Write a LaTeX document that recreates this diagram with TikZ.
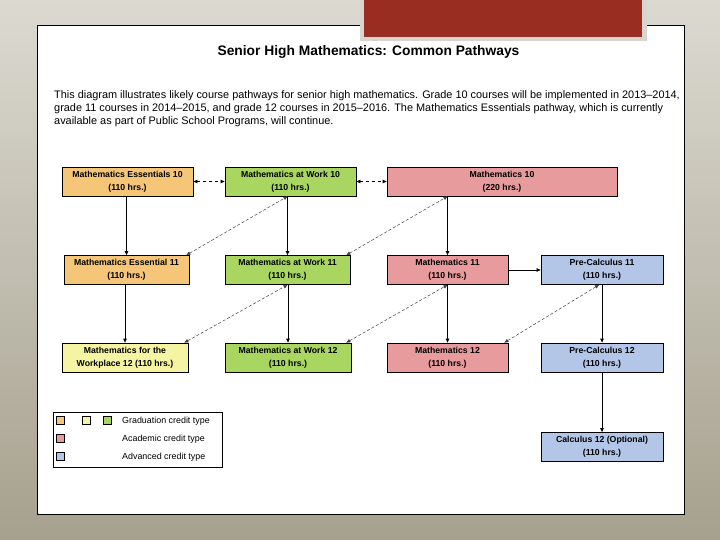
\documentclass[tikz,border=0pt]{standalone}
\usepackage{fontspec}
\setmainfont{Liberation Sans}
\usetikzlibrary{arrows.meta}
\definecolor{slidetop}{HTML}{DCD9D1}
\definecolor{slidebot}{HTML}{A6A18E}
\definecolor{tabred}{HTML}{992D21}
\definecolor{tabrim}{HTML}{D8D5CE}
\definecolor{essorange}{HTML}{F5C678}
\definecolor{wpyellow}{HTML}{F5F4A3}
\definecolor{workgreen}{HTML}{A8D660}
\definecolor{acadpink}{HTML}{E89B9C}
\definecolor{advblue}{HTML}{B4C6E8}

\begin{document}
\begin{tikzpicture}[
    x=1pt, y=-1pt,
    course/.style={draw=black, line width=0.8pt, fill=#1, align=center, inner sep=0pt,
                   minimum height=29pt, font=\fontsize{8.7}{13}\selectfont\bfseries},
    flow/.style={-{Triangle[length=4pt, width=3.6pt]}, line width=0.8pt},
    peerlink/.style={{Triangle[length=4pt, width=3.6pt]}-{Triangle[length=4pt, width=3.6pt]},
                     dashed, line width=0.8pt},
    crosslink/.style={{Triangle[length=4pt, width=3.4pt]}-{Triangle[length=4pt, width=3.4pt]},
                      densely dashed, line width=0.5pt, black!75},
    swatch/.style={draw=black, line width=0.6pt, fill=#1, minimum size=8pt, inner sep=0pt},
    keytext/.style={anchor=west, inner sep=0pt, font=\fontsize{8.9}{10}\selectfont}
]

% slide background
\useasboundingbox (0,0) rectangle (720,540);
\shade[top color=slidetop, bottom color=slidebot] (0,0) rectangle (720,540);

% white sheet and red tab
\fill[white] (37,25) rectangle (684,514);
\draw[line width=0.8pt] (37,25) rectangle (684,514);
\fill[tabrim] (360,0) rectangle (647,41);
\fill[tabred] (364,0) rectangle (642,37);

% heading
\node[font=\fontsize{13.8}{16}\selectfont\bfseries] (title) at (368.5,51.5)
    {Senior High Mathematics: Common Pathways};
\node[anchor=north west, inner sep=0pt, align=left, font=\fontsize{10.9}{13}\selectfont] (intro) at (54,90.5)
    {This diagram illustrates likely course pathways for senior high mathematics. Grade 10 courses will be implemented in 2013--2014,\\
     grade 11 courses in 2014--2015, and grade 12 courses in 2015--2016. The Mathematics Essentials pathway, which is currently\\
     available as part of Public School Programs, will continue.};

% grade 10
\node[course=essorange, minimum width=131pt] (ess10) at (127.5,181.5) {Mathematics Essentials 10\\(110 hrs.)};
\node[course=workgreen, minimum width=131pt] (work10) at (290.5,181.5) {Mathematics at Work 10\\(110 hrs.)};
\node[course=acadpink, minimum width=230pt] (math10) at (502,181.5) {Mathematics 10\\(220 hrs.)};

% grade 11
\node[course=essorange, minimum width=125pt] (ess11) at (126.5,270) {Mathematics Essential 11\\(110 hrs.)};
\node[course=workgreen, minimum width=125pt] (work11) at (287.5,270) {Mathematics at Work 11\\(110 hrs.)};
\node[course=acadpink, minimum width=121pt] (math11) at (447.5,270) {Mathematics 11\\(110 hrs.)};
\node[course=advblue, minimum width=122pt] (pre11) at (602,270) {Pre-Calculus 11\\(110 hrs.)};

% grade 12
\node[course=wpyellow, minimum width=126pt] (place12) at (125,357.5) {Mathematics for the\\Workplace 12 (110 hrs.)};
\node[course=workgreen, minimum width=126pt] (work12) at (288,357.5) {Mathematics at Work 12\\(110 hrs.)};
\node[course=acadpink, minimum width=121pt] (math12) at (447.5,357.5) {Mathematics 12\\(110 hrs.)};
\node[course=advblue, minimum width=122pt] (pre12) at (602,357.5) {Pre-Calculus 12\\(110 hrs.)};
\node[course=advblue, minimum width=122pt] (calc12) at (602,447) {Calculus 12 (Optional)\\(110 hrs.)};

% transfers within grade 10
\draw[peerlink] (ess10.east) -- (work10.west);
\draw[peerlink] (work10.east) -- (math10.west);

% main pathways
\draw[flow] (ess10.south -| ess11.north) -- (ess11.north);
\draw[flow] (work10.south -| work11.north) -- (work11.north);
\draw[flow] (math10.south -| math11.north) -- (math11.north);
\draw[flow] (math11.east) -- (pre11.west);
\draw[flow] (ess11.south -| place12.north) -- (place12.north);
\draw[flow] (work11.south -| work12.north) -- (work12.north);
\draw[flow] (math11.south) -- (math12.north);
\draw[flow] (pre11.south) -- (pre12.north);
\draw[flow] (pre12.south) -- (calc12.north);

% crossovers
\draw[crosslink] ([xshift=-3pt]ess11.north east) -- (work10.south -| work11.north);
\draw[crosslink] ([xshift=-4pt]work11.north east) -- (math10.south -| math11.north);
\draw[crosslink] ([xshift=-4pt]place12.north east) -- (work11.south);
\draw[crosslink] ([xshift=-5pt]work12.north east) -- (math11.south);
\draw[crosslink] ([xshift=-4pt]math12.north east) -- ([xshift=-3pt]pre11.south);

% legend
\draw[line width=0.8pt] (53,412) rectangle (222,467);
\node[swatch=essorange] (keyess) at (60,420) {};
\node[swatch=wpyellow] (keyplace) at (86.5,420) {};
\node[swatch=workgreen] (keywork) at (107.5,420) {};
\node[swatch=acadpink] (keyacad) at (60,438) {};
\node[swatch=advblue] (keyadv) at (60,456) {};
\node[keytext] (gradtext) at (122,421) {Graduation credit type};
\node[keytext] (acadtext) at (122,439) {Academic credit type};
\node[keytext] (advtext) at (122,457) {Advanced credit type};

\end{tikzpicture}
\end{document}
